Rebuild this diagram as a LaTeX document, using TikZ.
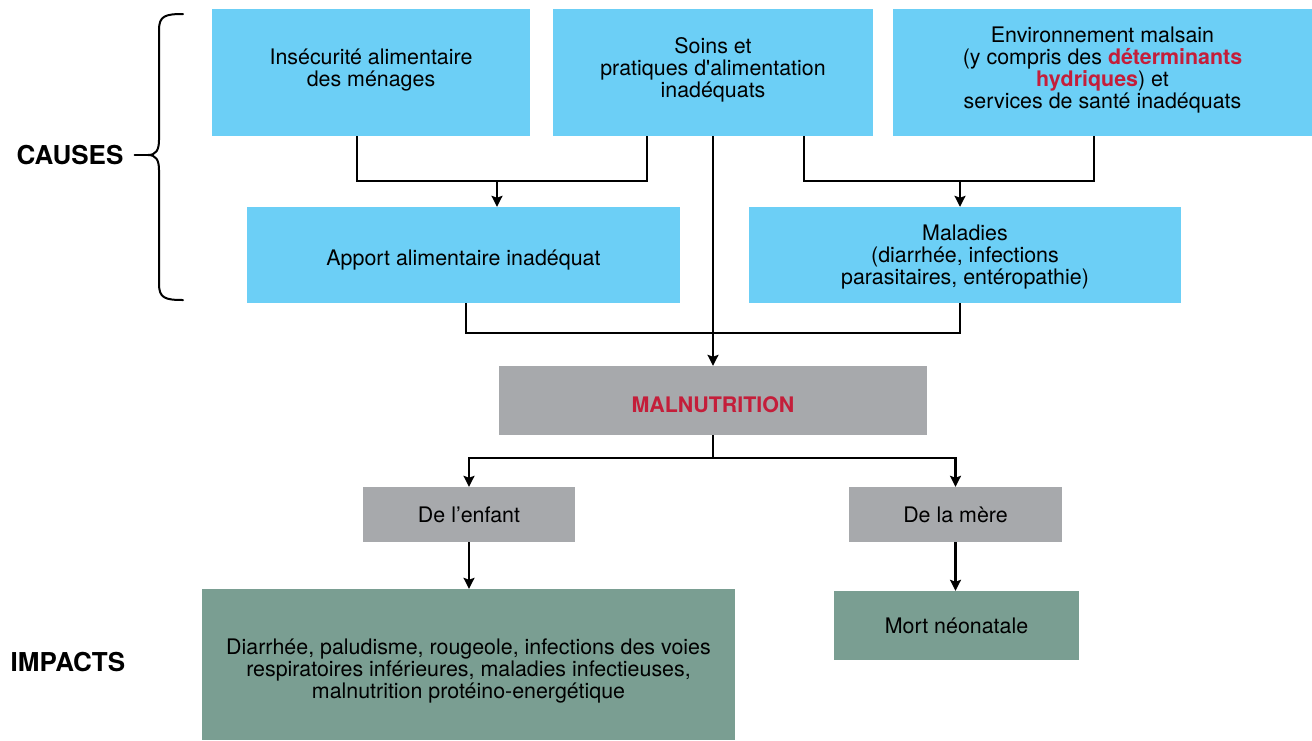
\documentclass[tikz,border=0pt]{standalone}
\usepackage{fontspec}
\setmainfont{TeX Gyre Heros}
\usetikzlibrary{arrows.meta}
\definecolor{causeblue}{HTML}{6CCFF6}
\definecolor{midgray}{HTML}{A7A9AC}
\definecolor{impactgreen}{HTML}{7A9E92}
\definecolor{alertred}{HTML}{C41E3A}

\begin{document}
\begin{tikzpicture}[x=1pt,y=-1pt,
      every node/.style={font=\fontsize{21.4}{21.8}\selectfont,align=center,inner sep=0pt},
      cause/.style={fill=causeblue},
      center/.style={fill=midgray},
      impact/.style={fill=impactgreen},
      heading/.style={font=\fontsize{26}{30}\selectfont\bfseries},
      link/.style={line width=2.2pt},
      flow/.style={link,-{Stealth[length=11pt,width=11pt,inset=2pt]}},
      brace/.style={line width=2pt,line cap=round}]

      \useasboundingbox (0,0) rectangle (1312,740);

      \node[cause,minimum width=318pt,minimum height=127pt] (node-insec) at (371,72.5)
        {Insécurité alimentaire\\des ménages\rule[-10pt]{0pt}{0pt}};
      \node[cause,minimum width=320pt,minimum height=127pt] (node-soins) at (713,72.5)
        {Soins et\\pratiques d{\addfontfeatures{Ligatures=TeXOff}'}alimentation\\inadéquats\rule[-9.5pt]{0pt}{0pt}};
      \node[cause,minimum width=419pt,minimum height=127pt] (node-envir) at (1102.5,72.5)
        {Environnement malsain\\(y compris des \textcolor{alertred}{\textbf{déterminants}}\\
         \textcolor{alertred}{\textbf{hydriques}}) et\\services de santé inadéquats\rule[-10pt]{0pt}{0pt}};
      \node[cause,minimum width=433pt,minimum height=96pt] (node-apport) at (463.5,255)
        {\rule{0pt}{26.5pt}Apport alimentaire inadéquat};
      \node[cause,minimum width=432pt,minimum height=96pt] (node-malad) at (965,255)
        {\rule{0pt}{19.5pt}Maladies\\(diarrhée, infections\\parasitaires, entéropathie)};
      \node[center,minimum width=428pt,minimum height=69pt] (node-malnut) at (713,400.5)
        {\rule{0pt}{23.4pt}\textcolor{alertred}{\textbf{MALNUTRITION}}};
      \node[center,minimum width=212pt,minimum height=55pt] (node-enfant) at (469,514.5)
        {De l’enfant};
      \node[center,minimum width=213pt,minimum height=55pt] (node-mere) at (955.5,514.5)
        {De la mère};
      \node[impact,minimum width=533pt,minimum height=151pt] (node-imp-enfant) at (468.5,664.5)
        {\rule{0pt}{29pt}Diarrhée, paludisme, rougeole, infections des voies\\
         respiratoires inférieures, maladies infectieuses,\\
         malnutrition protéino-energétique};
      \node[impact,minimum width=245pt,minimum height=69pt] (node-imp-mere) at (956.5,625.5)
        {Mort néonatale};

      \node[heading] (causes) at (70,155) {CAUSES};
      \node[heading] (impacts) at (68,662) {IMPACTS};

      \coordinate (join-left) at (497,181);
      \coordinate (join-right) at (960,181);
      \coordinate (join-mid) at (713,333);
      \coordinate (join-low) at (713,458);

      \draw[link] ([xshift=-14pt]node-insec.south) |- (join-left)
         -| ([xshift=-66pt]node-soins.south);
      \draw[flow] (join-left) -- (node-apport.north -| join-left);
      \draw[link] ([xshift=91pt]node-soins.south) |- (join-right)
         -| ([xshift=-8.5pt]node-envir.south);
      \draw[flow] (join-right) -- (node-malad.north -| join-right);
      \draw[link] ([xshift=2.5pt]node-apport.south) |- (join-mid)
         -| ([xshift=-5pt]node-malad.south);
      \draw[flow] (node-soins.south) -- (node-malnut.north);
      \draw[link] (node-malnut.south) -- (join-low);
      \draw[flow] (join-low) -| (node-enfant.north);
      \draw[flow] (join-low) -| (node-mere.north);
      \draw[flow] (node-enfant.south) -- (node-imp-enfant.north -| node-enfant.south);
      \draw[flow] (node-mere.south) -- (node-imp-mere.north -| node-mere.south);

      \draw[brace] (183,14) .. controls (165,14) and (159,16) .. (159,30) -- (159,140)
         .. controls (159,150) and (156,155) .. (148,155)
         .. controls (156,155) and (159,160) .. (159,170) -- (159,284)
         .. controls (159,298) and (165,300) .. (183,300);
      \draw[brace] ([xshift=11pt]causes.east) -- (148,155);
    \end{tikzpicture}
\end{document}
